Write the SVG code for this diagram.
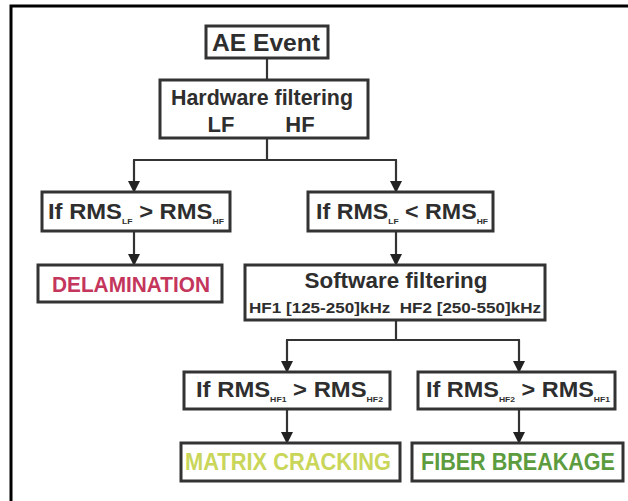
<svg xmlns="http://www.w3.org/2000/svg" width="628" height="501" viewBox="0 0 628 501">
<style>
.box{fill:#fff;stroke:#333;stroke-width:3}
.t{font-family:"Liberation Sans",Arial,sans-serif;font-weight:bold;fill:#2e2e2e}
.c{stroke:#333;stroke-width:2.2;fill:none}
.s{font-size:8px}
</style>
<defs>
<marker id="ah" markerUnits="userSpaceOnUse" markerWidth="12" markerHeight="12" refX="11" refY="6" orient="auto">
<path d="M0,0 L12,6 L0,12 z" fill="#222"/>
</marker>
</defs>
<rect width="628" height="501" fill="#fff"/>
<path d="M11,501 V6 H628" fill="none" stroke="#000" stroke-width="3"/>
<g id="connectors">
<path class="c" d="M267,58 V80"/>
<path class="c" d="M267,138 V160 M133,160 H397"/>
<path class="c" d="M134,160 V192" marker-end="url(#ah)"/>
<path class="c" d="M396,160 V192" marker-end="url(#ah)"/>
<path class="c" d="M134,231 V265" marker-end="url(#ah)"/>
<path class="c" d="M396,231 V265" marker-end="url(#ah)"/>
<path class="c" d="M396,320 V340 M286,340 H520"/>
<path class="c" d="M287,340 V372" marker-end="url(#ah)"/>
<path class="c" d="M519,340 V372" marker-end="url(#ah)"/>
<path class="c" d="M287,409 V443" marker-end="url(#ah)"/>
<path class="c" d="M519,409 V443" marker-end="url(#ah)"/>
</g>
<g id="ae">
<rect class="box" x="206" y="26" width="122" height="32"/>
<text class="t" x="266" y="51" font-size="24" text-anchor="middle" textLength="108" lengthAdjust="spacingAndGlyphs">AE Event</text>
</g>
<g id="hw">
<rect class="box" x="160" y="80" width="208" height="58"/>
<text class="t" x="262" y="105" font-size="22" text-anchor="middle" textLength="182" lengthAdjust="spacingAndGlyphs">Hardware filtering</text>
<text class="t" x="221" y="132" font-size="22" text-anchor="middle">LF</text>
<text class="t" x="300" y="132" font-size="22" text-anchor="middle">HF</text>
</g>
<g id="if1">
<rect class="box" x="42" y="192" width="188" height="39"/>
<text class="t" x="48" y="219" font-size="22" textLength="176" lengthAdjust="spacingAndGlyphs">If RMS<tspan class="s" dy="5">LF</tspan><tspan dy="-5"> &gt; RMS</tspan><tspan class="s" dy="5">HF</tspan></text>
</g>
<g id="if2">
<rect class="box" x="308" y="192" width="185" height="39"/>
<text class="t" x="316" y="219" font-size="22" textLength="172" lengthAdjust="spacingAndGlyphs">If RMS<tspan class="s" dy="5">LF</tspan><tspan dy="-5"> &lt; RMS</tspan><tspan class="s" dy="5">HF</tspan></text>
</g>
<g id="delam">
<rect class="box" x="38" y="265" width="184" height="37"/>
<text class="t" x="131" y="292" font-size="22" text-anchor="middle" style="fill:#c4365c" textLength="158" lengthAdjust="spacingAndGlyphs">DELAMINATION</text>
</g>
<g id="sw">
<rect class="box" x="245" y="265" width="300" height="55"/>
<text class="t" x="396" y="288" font-size="22" text-anchor="middle" textLength="183" lengthAdjust="spacingAndGlyphs">Software filtering</text>
<text class="t" x="395" y="313" font-size="15" text-anchor="middle" textLength="292" lengthAdjust="spacingAndGlyphs">HF1 [125-250]kHz&#160; HF2 [250-550]kHz</text>
</g>
<g id="if3">
<rect class="box" x="184" y="372" width="206" height="37"/>
<text class="t" x="196" y="397" font-size="22" textLength="187" lengthAdjust="spacingAndGlyphs">If RMS<tspan class="s" dy="5">HF1</tspan><tspan dy="-5"> &gt; RMS</tspan><tspan class="s" dy="5">HF2</tspan></text>
</g>
<g id="if4">
<rect class="box" x="418" y="372" width="197" height="37"/>
<text class="t" x="426" y="397" font-size="22" textLength="184" lengthAdjust="spacingAndGlyphs">If RMS<tspan class="s" dy="5">HF2</tspan><tspan dy="-5"> &gt; RMS</tspan><tspan class="s" dy="5">HF1</tspan></text>
</g>
<g id="mc">
<rect class="box" x="181" y="443" width="219" height="38"/>
<text class="t" x="288" y="470" font-size="23" text-anchor="middle" style="fill:#c9d65a" textLength="206" lengthAdjust="spacingAndGlyphs">MATRIX CRACKING</text>
</g>
<g id="fb">
<rect class="box" x="412" y="443" width="211" height="38"/>
<text class="t" x="518" y="470" font-size="23" text-anchor="middle" style="fill:#5c9c3e" textLength="194" lengthAdjust="spacingAndGlyphs">FIBER BREAKAGE</text>
</g>
</svg>
